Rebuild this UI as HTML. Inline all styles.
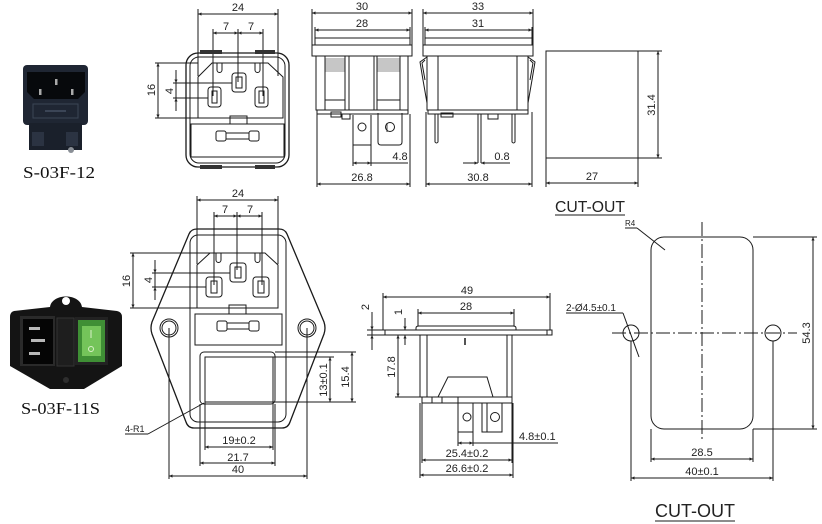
<!DOCTYPE html>
<html><head><meta charset="utf-8"><style>
html,body{margin:0;padding:0;background:#fff;}
svg{display:block;}
text{font-family:"Liberation Sans",sans-serif;font-size:11px;fill:#222;}
.c{text-anchor:middle;}
.s{font-family:"Liberation Serif",serif;font-size:17px;fill:#111;}
</style></head><body>
<svg width="822" height="524" viewBox="0 0 822 524" xmlns="http://www.w3.org/2000/svg">
<defs>
<marker id="a" viewBox="0 0 10 10" refX="10" refY="5" markerWidth="7" markerHeight="3.5" orient="auto-start-reverse" markerUnits="userSpaceOnUse"><path d="M0,0.5 L10,5 L0,9.5 z" fill="#222"/></marker>
</defs>
<rect width="822" height="524" fill="#fff"/>

<!-- ============ TOP PHOTO ============ -->
<g>
<rect x="23" y="65" width="65" height="60" rx="4" fill="#1f2633"/>
<rect x="29" y="123" width="53" height="27" fill="#1a202b"/>
<path d="M27,72 L85,72 L85,92 L78,99 L34,99 L27,92 Z" fill="#07090c"/>
<rect x="55" y="79" width="2.5" height="6" fill="#aaa"/>
<rect x="39" y="89" width="2.5" height="6" fill="#aaa"/>
<rect x="71" y="89" width="2.5" height="6" fill="#aaa"/>
<rect x="33" y="104" width="45" height="14" fill="none" stroke="#3b4556" stroke-width="1"/>
<line x1="45" y1="111" x2="66" y2="111" stroke="#3b4556" stroke-width="2"/>
<rect x="32" y="132" width="12" height="14" fill="#2b3342"/>
<rect x="66" y="132" width="12" height="14" fill="#2b3342"/>
<circle cx="71" cy="150" r="3" fill="#8a8f96"/>
<text class="s" x="23" y="178" textLength="72" lengthAdjust="spacingAndGlyphs">S-03F-12</text>
</g>

<!-- ============ BOTTOM PHOTO ============ -->
<g>
<path d="M14,311 L50,307 C52,293 80,293 82,307 L117,311 Q122,312 122,317 L122,366 L84,389 L50,389 L10,366 L10,317 Q10,312 14,311 Z" fill="#141414"/>
<circle cx="66" cy="301" r="4" fill="#fff"/>
<rect x="20" y="316" width="35" height="50" fill="#2a2a2a"/>
<rect x="23" y="319" width="30" height="45" fill="#050505"/>
<rect x="29" y="327" width="11" height="3" fill="#b8b8b8"/>
<rect x="31" y="339" width="14" height="3" fill="#b8b8b8"/>
<rect x="29" y="352" width="11" height="3" fill="#b8b8b8"/>
<rect x="57" y="318" width="17" height="48" fill="#1e1e1e" stroke="#333" stroke-width="1"/>
<rect x="75" y="317" width="33" height="48" fill="#222"/>
<rect x="78" y="320" width="27" height="42" fill="#3f8f35"/>
<rect x="82" y="326" width="19" height="30" fill="#74c45a"/>
<circle cx="91" cy="349" r="2.5" fill="none" stroke="#d8f0c8" stroke-width="1"/>
<line x1="91" y1="330" x2="91" y2="338" stroke="#d8f0c8" stroke-width="1"/>
<circle cx="66" cy="380" r="3" fill="#2e2e2e"/>
<text class="s" x="21" y="414" textLength="79" lengthAdjust="spacingAndGlyphs">S-03F-11S</text>
</g>

<g fill="none" stroke="#1a1a1a" stroke-width="1">

<!-- ============ TOP FRONT VIEW ============ -->
<line x1="198" y1="14" x2="278" y2="14" marker-start="url(#a)" marker-end="url(#a)"/>
<line x1="198" y1="9" x2="198" y2="76"/>
<line x1="278" y1="9" x2="278" y2="76"/>
<line x1="213" y1="33" x2="238" y2="33" marker-start="url(#a)" marker-end="url(#a)"/>
<line x1="238" y1="33" x2="263" y2="33" marker-start="url(#a)" marker-end="url(#a)"/>
<line x1="213" y1="29" x2="213" y2="96"/>
<line x1="238" y1="29" x2="238" y2="82"/>
<line x1="263" y1="29" x2="263" y2="96"/>
<rect x="186" y="53" width="103" height="114" rx="12" stroke-width="1.3"/>
<rect x="190" y="57" width="95" height="106" rx="9"/>
<path d="M198,77 L212,63 L268,63 L283,77 L283,118 L198,118 Z"/>
<path d="M217,63 L217,70 A2.5,2.5 0 0 0 222,70 L222,63"/>
<path d="M255,63 L255,70 A2.5,2.5 0 0 0 260,70 L260,63"/>
<rect x="232" y="73" width="14" height="19" rx="3"/>
<rect x="236" y="77" width="6" height="11"/>
<rect x="208" y="87" width="13" height="20" rx="3"/>
<rect x="212" y="91" width="5" height="12"/>
<rect x="255" y="87" width="13" height="20" rx="3"/>
<rect x="259" y="91" width="5" height="12"/>
<line x1="155" y1="63" x2="198" y2="63"/>
<line x1="155" y1="118" x2="198" y2="118"/>
<line x1="158" y1="63" x2="158" y2="118" marker-start="url(#a)" marker-end="url(#a)"/>
<line x1="173" y1="83" x2="232" y2="83"/>
<line x1="173" y1="98" x2="208" y2="98"/>
<line x1="176" y1="70" x2="176" y2="83" marker-end="url(#a)"/>
<line x1="176" y1="83" x2="176" y2="98"/>
<line x1="176" y1="111" x2="176" y2="98" marker-end="url(#a)"/>
<rect x="191" y="124" width="93" height="33"/>
<path d="M230,124 L230,116 L247,116 L247,124"/>
<rect x="216" y="131" width="10" height="10" rx="2"/>
<rect x="249" y="131" width="10" height="10" rx="2"/>
<rect x="226" y="133" width="23" height="6"/>

<!-- ============ TOP SIDE VIEW 1 ============ -->
<line x1="312" y1="13" x2="412" y2="13" marker-start="url(#a)" marker-end="url(#a)"/>
<line x1="312" y1="9" x2="312" y2="45"/>
<line x1="412" y1="9" x2="412" y2="45"/>
<line x1="315" y1="30" x2="410" y2="30" marker-start="url(#a)" marker-end="url(#a)"/>
<line x1="315" y1="27" x2="315" y2="38"/>
<line x1="410" y1="27" x2="410" y2="38"/>
<rect x="315" y="38" width="95" height="7"/>
<rect x="312" y="45" width="100" height="11"/>
<rect x="316" y="56" width="92" height="54"/>
<line x1="325" y1="56" x2="325" y2="110"/>
<line x1="345" y1="56" x2="345" y2="110"/>
<line x1="349" y1="56" x2="349" y2="110"/>
<line x1="374" y1="56" x2="374" y2="110"/>
<line x1="377" y1="56" x2="377" y2="110"/>
<line x1="400" y1="56" x2="400" y2="110"/>
<path d="M325,59H345M325,61H345M325,63H345M325,65H345M325,67H345M325,69H345M325,71H345M377,59H400M377,61H400M377,63H400M377,65H400M377,67H400M377,69H400M377,71H400" stroke-width="0.6"/>
<line x1="325" y1="100" x2="345" y2="100"/>
<line x1="377" y1="100" x2="400" y2="100"/>
<rect x="317" y="110" width="91" height="4"/>
<rect x="331" y="112" width="10" height="5"/>
<rect x="342" y="114" width="8" height="5"/>
<path d="M353,115 L353,145 L371,145 L371,115"/>
<circle cx="362" cy="127" r="4"/>
<path d="M378,113 L378,142 Q378,145 381,145 L399,145 Q402,145 402,142 L402,113"/>
<circle cx="390" cy="127" r="4.5"/>
<path d="M387,123 L387,132" stroke-width="0.8"/>
<line x1="353" y1="145" x2="353" y2="166"/>
<line x1="371" y1="145" x2="371" y2="166"/>
<line x1="353" y1="163" x2="371" y2="163" marker-start="url(#a)" marker-end="url(#a)"/>
<line x1="371" y1="163" x2="408" y2="163"/>
<line x1="317" y1="114" x2="317" y2="187"/>
<line x1="410" y1="114" x2="410" y2="187"/>
<line x1="317" y1="184" x2="410" y2="184" marker-start="url(#a)" marker-end="url(#a)"/>

<!-- ============ TOP SIDE VIEW 2 ============ -->
<line x1="423" y1="13" x2="533" y2="13" marker-start="url(#a)" marker-end="url(#a)"/>
<line x1="423" y1="9" x2="423" y2="45"/>
<line x1="533" y1="9" x2="533" y2="45"/>
<line x1="425" y1="30" x2="532" y2="30" marker-start="url(#a)" marker-end="url(#a)"/>
<line x1="425" y1="27" x2="425" y2="38"/>
<line x1="532" y1="27" x2="532" y2="38"/>
<rect x="425" y="38" width="107" height="7"/>
<rect x="423" y="45" width="110" height="11"/>
<rect x="427" y="56" width="101" height="54"/>
<line x1="438" y1="56" x2="438" y2="110"/>
<line x1="517" y1="56" x2="517" y2="110"/>
<path d="M427,57 L420,62 L423,80 L427,103"/>
<path d="M425,60 L422,63 L425,80"/>
<path d="M528,57 L535,62 L532,80 L528,103"/>
<path d="M530,60 L533,63 L530,80"/>
<rect x="428" y="110" width="100" height="4"/>
<rect x="441" y="113" width="12" height="4"/>
<rect x="488" y="114" width="10" height="5"/>
<path d="M435,114 L435,142 Q436.5,144 438,142 L438,114"/>
<path d="M478,114 L478,163 M481,114 L481,163"/>
<path d="M512,114 L512,142 Q513.5,144 515,142 L515,114"/>
<line x1="463" y1="163" x2="478" y2="163" marker-end="url(#a)"/>
<line x1="510" y1="163" x2="481" y2="163" marker-end="url(#a)"/>
<line x1="426" y1="112" x2="426" y2="187"/>
<line x1="532" y1="112" x2="532" y2="187"/>
<line x1="426" y1="184" x2="532" y2="184" marker-start="url(#a)" marker-end="url(#a)"/>

<!-- ============ TOP CUTOUT BOX ============ -->
<rect x="546" y="51" width="92" height="107"/>
<line x1="638" y1="51" x2="662" y2="51"/>
<line x1="638" y1="158" x2="662" y2="158"/>
<line x1="658" y1="51" x2="658" y2="158" marker-start="url(#a)" marker-end="url(#a)"/>
<line x1="546" y1="158" x2="546" y2="187"/>
<line x1="638" y1="158" x2="638" y2="187"/>
<line x1="546" y1="183" x2="638" y2="183" marker-start="url(#a)" marker-end="url(#a)"/>
<line x1="555" y1="215" x2="625" y2="215"/>

<!-- ============ BOTTOM FRONT VIEW ============ -->
<line x1="197" y1="200" x2="278" y2="200" marker-start="url(#a)" marker-end="url(#a)"/>
<line x1="197" y1="196" x2="197" y2="264"/>
<line x1="278" y1="196" x2="278" y2="264"/>
<line x1="214" y1="216" x2="237" y2="216" marker-start="url(#a)" marker-end="url(#a)"/>
<line x1="237" y1="216" x2="262" y2="216" marker-start="url(#a)" marker-end="url(#a)"/>
<line x1="214" y1="212" x2="214" y2="285"/>
<line x1="237" y1="212" x2="237" y2="270"/>
<line x1="262" y1="212" x2="262" y2="285"/>
<path d="M197,229 L279,229 Q285,229 287,234 L324,322 Q326,328 324,334 L290,422 Q288,428 282,428 L194,428 Q188,428 186,422 L152,334 Q150,328 152,322 L189,234 Q191,229 197,229 Z" stroke-width="1.3"/>
<rect x="190" y="235" width="96" height="187" rx="8"/>
<path d="M197,265 L210,253 L265,253 L278,265 L278,308 L197,308 Z"/>
<path d="M216,253 L216,260 A2.5,2.5 0 0 0 221,260 L221,253"/>
<path d="M255,253 L255,260 A2.5,2.5 0 0 0 260,260 L260,253"/>
<rect x="230" y="263" width="16" height="19" rx="3"/>
<rect x="235" y="267" width="6" height="11"/>
<rect x="206" y="277" width="16" height="20" rx="3"/>
<rect x="211" y="281" width="6" height="12"/>
<rect x="253" y="277" width="16" height="20" rx="3"/>
<rect x="258" y="281" width="6" height="12"/>
<line x1="130" y1="253" x2="210" y2="253"/>
<line x1="130" y1="308" x2="197" y2="308"/>
<line x1="133" y1="253" x2="133" y2="308" marker-start="url(#a)" marker-end="url(#a)"/>
<line x1="152" y1="273" x2="230" y2="273"/>
<line x1="152" y1="287" x2="206" y2="287"/>
<line x1="155" y1="260" x2="155" y2="273" marker-end="url(#a)"/>
<line x1="155" y1="273" x2="155" y2="287"/>
<line x1="155" y1="300" x2="155" y2="287" marker-end="url(#a)"/>
<path d="M229,314 L229,305 L246,305 L246,314"/>
<rect x="195" y="314" width="87" height="31"/>
<rect x="217" y="321" width="10" height="10" rx="2"/>
<rect x="249" y="321" width="10" height="10" rx="2"/>
<rect x="227" y="323" width="22" height="6"/>
<circle cx="169" cy="328" r="9"/>
<circle cx="169" cy="328" r="7"/>
<circle cx="307" cy="328" r="9"/>
<circle cx="307" cy="328" r="7"/>
<line x1="169" y1="328" x2="169" y2="479"/>
<line x1="307" y1="328" x2="307" y2="479"/>
<rect x="200" y="352" width="75" height="52" rx="4"/>
<rect x="205" y="357" width="68" height="45"/>
<line x1="205" y1="402" x2="205" y2="450"/>
<line x1="273" y1="402" x2="273" y2="450"/>
<line x1="200" y1="404" x2="200" y2="466"/>
<line x1="275" y1="404" x2="275" y2="466"/>
<line x1="205" y1="447" x2="273" y2="447" marker-start="url(#a)" marker-end="url(#a)"/>
<line x1="200" y1="463" x2="275" y2="463" marker-start="url(#a)" marker-end="url(#a)"/>
<line x1="169" y1="476" x2="307" y2="476" marker-start="url(#a)" marker-end="url(#a)"/>
<line x1="273" y1="357" x2="334" y2="357"/>
<line x1="205" y1="402" x2="356" y2="402"/>
<line x1="275" y1="352" x2="356" y2="352"/>
<line x1="330" y1="357" x2="330" y2="402" marker-start="url(#a)" marker-end="url(#a)"/>
<line x1="352" y1="352" x2="352" y2="402" marker-start="url(#a)" marker-end="url(#a)"/>
<line x1="125" y1="434" x2="148" y2="434"/>
<line x1="148" y1="434" x2="204" y2="403"/>

<!-- ============ BOTTOM SIDE VIEW ============ -->
<line x1="383" y1="297" x2="550" y2="297" marker-start="url(#a)" marker-end="url(#a)"/>
<line x1="383" y1="293" x2="383" y2="330"/>
<line x1="550" y1="293" x2="550" y2="330"/>
<line x1="418" y1="313" x2="514" y2="313" marker-start="url(#a)" marker-end="url(#a)"/>
<line x1="418" y1="309" x2="418" y2="326"/>
<line x1="514" y1="309" x2="514" y2="326"/>
<rect x="372" y="330" width="180" height="5"/>
<line x1="385" y1="330" x2="385" y2="335"/>
<line x1="547" y1="330" x2="547" y2="335"/>
<path d="M416,330 L416,328 Q416,326 419,326 L513,326 Q516,326 516,328 L516,330"/>
<rect x="420" y="335" width="92" height="62"/>
<line x1="427" y1="335" x2="427" y2="397"/>
<line x1="507" y1="335" x2="507" y2="397"/>
<line x1="465" y1="338" x2="465" y2="345" stroke-width="1.5"/>
<path d="M438,397 L448,377 L487,377 L493,397"/>
<rect x="422" y="397" width="90" height="6"/>
<line x1="432" y1="397" x2="432" y2="403"/>
<line x1="442" y1="397" x2="442" y2="403"/>
<line x1="458" y1="397" x2="458" y2="403"/>
<path d="M458,403 L458,432 L473,432 L473,403"/>
<circle cx="467" cy="417" r="4"/>
<path d="M482,403 L482,432 L502,432 L502,403"/>
<line x1="487" y1="403" x2="487" y2="432"/>
<circle cx="495" cy="417" r="4.5"/>
<line x1="367" y1="330" x2="372" y2="330"/>
<line x1="367" y1="335" x2="372" y2="335"/>
<line x1="372" y1="312" x2="372" y2="330" marker-end="url(#a)"/>
<line x1="372" y1="350" x2="372" y2="335" marker-end="url(#a)"/>
<line x1="405" y1="318" x2="405" y2="330" marker-end="url(#a)"/>
<line x1="405" y1="345" x2="405" y2="335" marker-end="url(#a)"/>
<line x1="395" y1="335" x2="420" y2="335"/>
<line x1="395" y1="397" x2="422" y2="397"/>
<line x1="398" y1="335" x2="398" y2="397" marker-start="url(#a)" marker-end="url(#a)"/>
<line x1="458" y1="432" x2="458" y2="446"/>
<line x1="473" y1="432" x2="473" y2="446"/>
<line x1="458" y1="443" x2="473" y2="443" marker-start="url(#a)" marker-end="url(#a)"/>
<line x1="473" y1="443" x2="558" y2="443"/>
<line x1="422" y1="403" x2="422" y2="463"/>
<line x1="512" y1="403" x2="512" y2="463"/>
<line x1="420" y1="403" x2="420" y2="478"/>
<line x1="513" y1="403" x2="513" y2="478"/>
<line x1="422" y1="460" x2="512" y2="460" marker-start="url(#a)" marker-end="url(#a)"/>
<line x1="420" y1="475" x2="513" y2="475" marker-start="url(#a)" marker-end="url(#a)"/>

<!-- ============ CUTOUT BOTTOM ============ -->
<rect x="651" y="237" width="102" height="192" rx="13"/>
<line x1="702" y1="222" x2="702" y2="440" stroke-dasharray="14 3 2 3"/>
<line x1="612" y1="333" x2="797" y2="333" stroke-dasharray="14 3 2 3"/>
<circle cx="631" cy="333" r="8"/>
<circle cx="773" cy="333" r="8"/>
<line x1="625" y1="228" x2="637" y2="228"/>
<line x1="637" y1="228" x2="665" y2="250"/>
<line x1="566" y1="313" x2="623" y2="313"/>
<line x1="623" y1="313" x2="639" y2="357"/>
<line x1="753" y1="237" x2="817" y2="237"/>
<line x1="753" y1="429" x2="817" y2="429"/>
<line x1="813" y1="237" x2="813" y2="429" marker-start="url(#a)" marker-end="url(#a)"/>
<line x1="651" y1="429" x2="651" y2="462"/>
<line x1="753" y1="429" x2="753" y2="462"/>
<line x1="651" y1="459" x2="753" y2="459" marker-start="url(#a)" marker-end="url(#a)"/>
<line x1="631" y1="341" x2="631" y2="481"/>
<line x1="773" y1="341" x2="773" y2="481"/>
<line x1="631" y1="478" x2="773" y2="478" marker-start="url(#a)" marker-end="url(#a)"/>
<line x1="655" y1="521" x2="735" y2="521"/>
</g>

<!-- Fuse tab fill marks (top views) -->
<rect x="200" y="50" width="22" height="4" fill="#333"/>
<rect x="255" y="50" width="20" height="4" fill="#333"/>
<rect x="200" y="165" width="22" height="4" fill="#333"/>
<rect x="255" y="165" width="20" height="4" fill="#333"/>

<!-- ============ TEXT ============ -->
<text class="c" x="238" y="11">24</text>
<text class="c" x="226" y="30">7</text>
<text class="c" x="251" y="30">7</text>
<text class="c" transform="translate(155,90) rotate(-90)">16</text>
<text class="c" transform="translate(173,91) rotate(-90)">4</text>

<text class="c" x="362" y="10">30</text>
<text class="c" x="362" y="27">28</text>
<text class="c" x="400" y="160">4.8</text>
<text class="c" x="362" y="181">26.8</text>

<text class="c" x="478" y="10">33</text>
<text class="c" x="478" y="27">31</text>
<text class="c" x="502" y="160">0.8</text>
<text class="c" x="478" y="181">30.8</text>

<text class="c" transform="translate(655,105) rotate(-90)">31.4</text>
<text class="c" x="592" y="180">27</text>
<text x="555" y="212" style="font-size:16px" textLength="70" lengthAdjust="spacingAndGlyphs">CUT-OUT</text>

<text class="c" x="238" y="197">24</text>
<text class="c" x="225" y="213">7</text>
<text class="c" x="250" y="213">7</text>
<text class="c" transform="translate(130,281) rotate(-90)">16</text>
<text class="c" transform="translate(152,280) rotate(-90)">4</text>
<text class="c" transform="translate(327,380) rotate(-90)">13±0.1</text>
<text class="c" transform="translate(349,377) rotate(-90)">15.4</text>
<text class="c" x="239" y="444">19±0.2</text>
<text class="c" x="238" y="461">21.7</text>
<text class="c" x="238" y="473">40</text>
<text x="125" y="432" style="font-size:9px">4-R1</text>

<text class="c" x="467" y="294">49</text>
<text class="c" x="466" y="310">28</text>
<text class="c" transform="translate(369,307) rotate(-90)">2</text>
<text class="c" transform="translate(402,312) rotate(-90)">1</text>
<text class="c" transform="translate(395,367) rotate(-90)">17.8</text>
<text x="519" y="440">4.8±0.1</text>
<text class="c" x="467" y="457">25.4±0.2</text>
<text class="c" x="467" y="472">26.6±0.2</text>

<text x="625" y="226" style="font-size:8px">R4</text>
<text x="566" y="311" style="font-size:10px">2-Ø4.5±0.1</text>
<text class="c" transform="translate(810,333) rotate(-90)">54.3</text>
<text class="c" x="702" y="456">28.5</text>
<text class="c" x="702" y="475">40±0.1</text>
<text x="655" y="517" style="font-size:18px" textLength="80" lengthAdjust="spacingAndGlyphs">CUT-OUT</text>
</svg>
</body></html>
